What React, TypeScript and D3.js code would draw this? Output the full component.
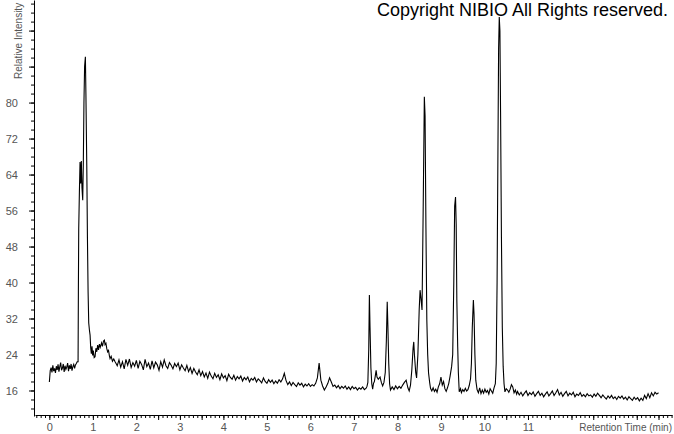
import React, { useEffect, useRef } from 'react'
import * as d3 from 'd3'

const width = 674
const height = 434

// start of run, one reading every 0.02 min from 0.00 to 0.64
const runStartValues = [
  17.9, 20.4, 21.1, 20.0, 21.6, 20.3, 20.9, 19.9, 21.4, 20.6,
  21.8, 20.2, 21.3, 22.2, 20.5, 21.0, 21.9, 20.1, 21.5, 20.7,
  21.2, 22.1, 20.3, 21.6, 20.8, 21.9, 20.4, 21.3, 21.8, 20.9,
  21.7, 22.0, 22.4,
]

// solvent front double peak and the hump after it: [min, intensity]
const firstPeak: [number, number][] = [
  [0.66, 22.4], [0.667, 38], [0.675, 52], [0.69, 60], [0.705, 66.8], [0.72, 62],
  [0.735, 67], [0.75, 61], [0.767, 58.3], [0.78, 66], [0.795, 80], [0.81, 88],
  [0.828, 90.2], [0.84, 82], [0.86, 66], [0.875, 50], [0.89, 38], [0.905, 31],
  [0.92, 29.5], [0.936, 28.3], [0.95, 25.5], [0.965, 24.2], [0.98, 25.8], [0.995, 23.8],
  [1.01, 24.9], [1.03, 23.3], [1.05, 23.5], [1.07, 25.4], [1.09, 24.6], [1.11, 26.1],
  [1.13, 25.0], [1.15, 26.3], [1.17, 25.6], [1.2, 26.6], [1.22, 25.8], [1.245, 27.0],
  [1.265, 27.2], [1.28, 26.2], [1.3, 26.5], [1.32, 25.3], [1.34, 24.6], [1.36, 24.9],
  [1.38, 23.7], [1.395, 23.1], [1.42, 23.6], [1.45, 22.5], [1.48, 23.0], [1.51, 22.4],
  [1.54, 21.9],
]

// baseline, one reading every 0.04 min from 1.56 to 7.28
const midBaseline = [
  21.5, 22.8, 21.2, 22.4, 20.8, 22.9, 21.6, 23.0, 21.1, 22.2,
  21.4, 22.7, 20.9, 22.5, 21.8, 20.6, 22.9, 21.3, 22.1, 20.7,
  22.6, 21.0, 22.3, 21.7, 20.5, 22.4, 21.2, 22.8, 21.5, 20.9,
  22.2, 21.6, 20.8, 22.0, 21.3, 22.1, 20.6, 21.7, 21.0, 20.4,
  21.6, 20.2, 21.1, 19.8, 20.9, 20.1, 19.5, 20.6, 19.3, 20.2,
  19.0, 19.9, 18.7, 20.1, 19.2, 18.6, 19.8, 18.9, 19.5, 18.4,
  19.7, 18.8, 19.3, 18.2, 19.6, 18.9, 18.5, 19.4, 18.3, 19.1,
  18.6, 19.2, 18.1, 18.9, 18.4, 19.0, 17.9, 18.7, 18.3, 18.9,
  17.9, 18.6, 18.2, 17.7, 18.8, 18.0, 17.6, 18.4, 17.8, 18.3,
  17.5, 18.1, 17.6, 18.4, 17.9, 18.6, 19.8, 18.2, 17.3, 17.9,
  17.1, 17.8, 17.3, 16.9, 17.7, 17.2, 17.6, 16.8, 17.4, 17.0,
  17.5, 16.9, 17.3, 17.0, 17.6, 18.8, 22.1, 18.3, 17.0, 16.1,
  16.8, 17.6, 18.8, 17.9, 16.9, 17.2, 16.6, 17.1, 16.4, 16.9,
  16.5, 17.0, 16.3, 16.8, 16.2, 16.9, 16.4, 16.7, 16.1, 16.6,
  16.3, 16.8, 16.2, 16.5,
]

// main group of compound peaks: [min, intensity]
const peakCluster: [number, number][] = [
  [7.3, 16.9], [7.32, 17.8], [7.34, 25], [7.355, 37.2], [7.37, 30], [7.39, 21],
  [7.41, 17.5], [7.43, 16.3], [7.45, 17.6], [7.47, 18.0], [7.49, 19.2], [7.51, 20.5],
  [7.53, 19.0], [7.56, 18.5], [7.6, 19.0], [7.63, 17.8], [7.66, 17.0], [7.69, 17.8],
  [7.72, 20.0], [7.745, 27], [7.765, 35.7], [7.78, 30.5], [7.8, 22], [7.82, 17.5],
  [7.84, 16.1], [7.88, 16.8], [7.92, 16.2], [7.96, 17.0], [8.0, 16.4], [8.04, 16.9],
  [8.08, 16.5], [8.12, 17.2], [8.16, 17.8], [8.2, 18.3], [8.24, 16.6], [8.27, 15.9],
  [8.3, 17.2], [8.33, 20.5], [8.36, 25.5], [8.375, 26.8], [8.39, 24], [8.42, 20.0],
  [8.44, 18.8], [8.47, 24], [8.5, 34], [8.52, 38.3], [8.54, 36.5], [8.565, 33.9],
  [8.59, 55], [8.618, 81.3], [8.635, 77], [8.655, 52], [8.675, 31.7], [8.695, 24],
  [8.715, 19.9], [8.74, 17.8], [8.76, 16.5], [8.79, 15.9], [8.82, 16.6], [8.85, 15.8],
  [8.88, 16.3], [8.91, 15.6], [8.94, 16.8], [8.97, 17.5], [9.0, 19.0], [9.03, 17.2],
  [9.06, 18.0], [9.09, 16.4], [9.12, 15.8], [9.15, 16.6], [9.18, 17.6], [9.21, 19.2],
  [9.245, 21.3], [9.27, 24], [9.295, 40], [9.315, 57], [9.335, 59], [9.35, 53],
  [9.365, 36], [9.385, 25.7], [9.4, 20], [9.42, 15.7], [9.45, 16.4], [9.47, 15.5],
  [9.5, 16.2], [9.53, 15.8], [9.56, 16.5], [9.59, 15.9], [9.62, 16.2], [9.65, 17.1],
  [9.68, 18.6], [9.7, 22], [9.72, 30], [9.745, 36.1], [9.76, 33], [9.78, 24],
  [9.8, 18.3], [9.83, 16.2], [9.86, 15.5], [9.89, 16.6], [9.92, 15.3], [9.95, 16.1],
  [9.98, 15.4], [10.01, 16.3], [10.04, 15.6], [10.07, 16.0], [10.1, 15.2], [10.13, 16.4],
  [10.16, 15.9], [10.19, 15.4], [10.22, 16.6], [10.25, 17.5], [10.27, 22], [10.29, 40],
  [10.31, 70], [10.325, 92], [10.34, 99], [10.355, 96], [10.37, 78], [10.39, 50],
  [10.41, 30], [10.43, 21.3], [10.45, 17.5], [10.47, 15.7], [10.5, 16.4], [10.53, 16.1],
  [10.56, 15.6], [10.59, 16.3], [10.62, 17.3], [10.65, 16.8], [10.68, 15.5], [10.71, 16.1],
  [10.74, 15.2],
]

// tail of the run, one reading every 0.04 min from 10.76 to 14.00
const tailBaseline = [
  15.8, 15.0, 15.6, 14.8, 15.4, 15.9, 14.9, 15.5, 15.1, 15.7,
  14.7, 15.3, 15.8, 14.9, 15.4, 14.6, 15.2, 15.7, 14.8, 15.3,
  15.9, 14.9, 15.5, 16.2, 15.0, 15.6, 14.7, 15.3, 15.8, 14.8,
  15.4, 15.0, 15.6, 14.6, 15.2, 14.9, 15.5, 14.7, 15.1, 14.6,
  15.3, 14.8, 15.0, 14.5, 15.2, 14.7, 15.4, 14.9, 14.4, 15.0,
  14.5, 14.1, 14.8, 14.3, 14.9, 14.2, 14.6, 14.0, 14.7, 14.3,
  14.8, 14.1, 14.5, 13.9, 14.6, 14.2, 13.8, 14.5, 14.0, 14.4,
  13.7, 14.3, 13.8, 14.9, 14.2, 15.3, 14.4, 15.5, 14.8, 15.6,
  15.2, 15.5,
]

const xTickLabels = [0, 1, 2, 3, 4, 5, 6, 7, 8, 9, 10, 11]
const yTickLabels = [16, 24, 32, 40, 48, 56, 64, 72, 80]

const labelFont = 'Liberation Sans, Arial, sans-serif'

function sampled(start: number, step: number, values: number[]): [number, number][] {
  return values.map((v, i) => [+(start + i * step).toFixed(3), v])
}

export default function App() {
  const ref = useRef<SVGSVGElement>(null)

  useEffect(() => {
    const svg = d3.select(ref.current)
    svg.selectAll('*').remove()

    const trace = [
      ...sampled(0, 0.02, runStartValues),
      ...firstPeak,
      ...sampled(1.56, 0.04, midBaseline),
      ...peakCluster,
      ...sampled(10.76, 0.04, tailBaseline),
    ]

    const x = d3.scaleLinear().domain([-0.33, 14.31]).range([35, 672])
    const y = d3.scaleLinear().domain([10.33, 102.8]).range([416, 0])

    // x axis: small ticks every 0.1 min, longer every 0.5
    const xMinor = svg.append('g').attr('transform', 'translate(0,415)')
      .call(d3.axisBottom(x)
        .tickValues(d3.range(-3, 144).map(i => i / 10))
        .tickSize(3).tickSizeOuter(0).tickFormat(() => ''))
    const xMajor = svg.append('g').attr('transform', 'translate(0,415)')
      .call(d3.axisBottom(x)
        .tickValues(d3.range(0, 29).map(i => i / 2))
        .tickSize(5).tickSizeOuter(0).tickPadding(3)
        .tickFormat(d => (xTickLabels.includes(+d) ? String(d) : '')))
    xMajor.select('.domain').remove()

    // y axis: small ticks every 2, longer every 8
    const yMinor = svg.append('g').attr('transform', 'translate(34,0)')
      .call(d3.axisLeft(y)
        .tickValues(d3.range(12, 103, 2))
        .tickSize(3).tickSizeOuter(0).tickFormat(() => ''))
    const yMajor = svg.append('g').attr('transform', 'translate(34,0)')
      .call(d3.axisLeft(y)
        .tickValues(d3.range(16, 101, 8))
        .tickSize(5).tickSizeOuter(0).tickPadding(11)
        .tickFormat(d => (yTickLabels.includes(+d) ? String(d) : '')))
    yMajor.select('.domain').remove()

    ;[xMinor, xMajor, yMinor, yMajor].forEach(g => {
      g.attr('font-family', labelFont).attr('font-size', 11)
      g.selectAll('.tick text').attr('fill', '#555')
    })

    const line = d3.line<[number, number]>()
      .x(d => x(d[0]))
      .y(d => y(d[1]))

    svg.append('path')
      .datum(trace)
      .attr('fill', 'none')
      .attr('stroke', '#000')
      .attr('stroke-width', 1.1)
      .attr('d', line)

    svg.append('text')
      .attr('x', 672).attr('y', 431)
      .attr('text-anchor', 'end')
      .attr('font-family', labelFont).attr('font-size', 10)
      .attr('fill', '#555')
      .text('Retention Time (min)')

    svg.append('text')
      .attr('transform', 'translate(22,79) rotate(-90)')
      .attr('font-family', labelFont).attr('font-size', 10)
      .attr('fill', '#555')
      .text('Relative Intensity')

    svg.append('text')
      .attr('x', 377).attr('y', 16)
      .attr('font-family', labelFont).attr('font-size', 18)
      .attr('fill', '#000')
      .text('Copyright NIBIO All Rights reserved.')
  }, [])

  return (
    <svg ref={ref} width={width} height={height}
      style={{ position: 'absolute', left: 0, top: 0, background: '#fff' }} />
  )
}
